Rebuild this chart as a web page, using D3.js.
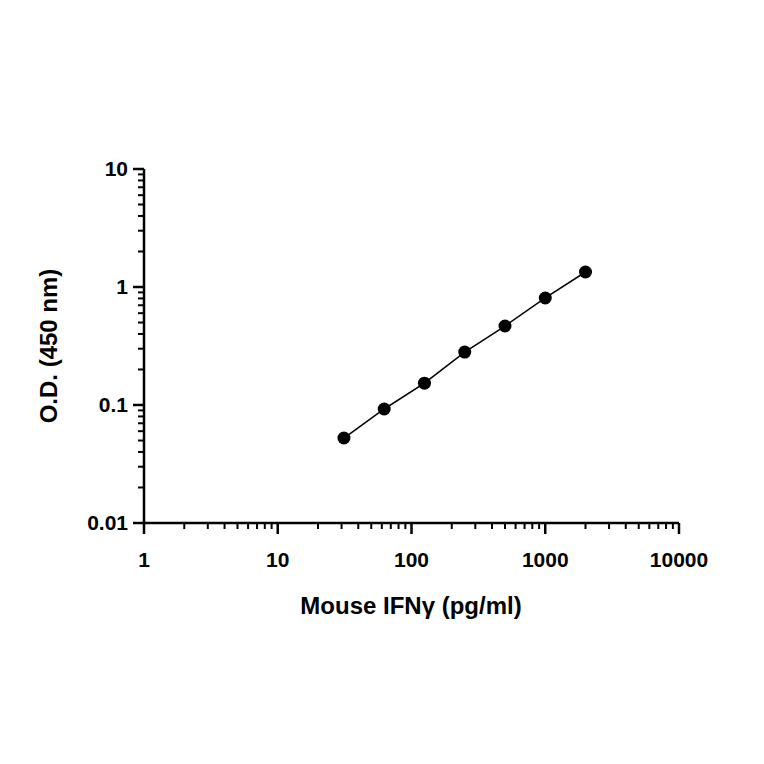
<!DOCTYPE html>
<html><head><meta charset="utf-8">
<script src="https://cdn.jsdelivr.net/npm/d3@7"></script>
<style>body{margin:0;background:#fff}</style></head>
<body><svg id="c" width="764" height="764"></svg>
<script>
const concentrations=[31.25,62.5,125,250,500,1000,2000];
const od=[0.0525,0.0925,0.153,0.281,0.467,0.807,1.34];
const xTicks=[1,10,100,1000,10000];
const yTicks=[0.01,0.1,1,10];
const svg=d3.select("#c");
const x=d3.scaleLog().domain([1,10000]).range([144,679]);
const y=d3.scaleLog().domain([0.01,10]).range([523,169]);
const font="Liberation Sans, Arial, sans-serif";
const g=svg.append("g").attr("stroke","#000");
// x axis
g.append("line").attr("x1",x(1)).attr("x2",x(10000)).attr("y1",523).attr("y2",523).attr("stroke-width",2.5);
const minorX=[];for(let d=1;d<10000;d*=10)for(let k=2;k<10;k++)minorX.push(d*k);
g.selectAll(".mx").data(minorX).enter().append("line").attr("x1",d=>x(d)).attr("x2",d=>x(d)).attr("y1",523).attr("y2",529).attr("stroke-width",2);
g.selectAll(".Mx").data(xTicks).enter().append("line").attr("x1",d=>x(d)).attr("x2",d=>x(d)).attr("y1",523).attr("y2",534).attr("stroke-width",2.5);
svg.selectAll(".xl").data(xTicks).enter().append("text").attr("x",d=>x(d)).attr("y",567).attr("text-anchor","middle")
 .attr("font-family",font).attr("font-weight","bold").attr("font-size",21).text(d=>d);
// y axis
g.append("line").attr("x1",144).attr("x2",144).attr("y1",y(0.01)).attr("y2",y(10)).attr("stroke-width",2.5);
const minorY=[];for(let d=0.01;d<9;d*=10)for(let k=2;k<10;k++)minorY.push(d*k);
g.selectAll(".my").data(minorY).enter().append("line").attr("x1",138).attr("x2",144).attr("y1",d=>y(d)).attr("y2",d=>y(d)).attr("stroke-width",2);
g.selectAll(".My").data(yTicks).enter().append("line").attr("x1",133).attr("x2",144).attr("y1",d=>y(d)).attr("y2",d=>y(d)).attr("stroke-width",2.5);
svg.selectAll(".yl").data(yTicks).enter().append("text").attr("x",128).attr("y",d=>y(d)+7).attr("text-anchor","end")
 .attr("font-family",font).attr("font-weight","bold").attr("font-size",21).text(d=>d);
// line + points
svg.append("path").datum(concentrations.map((c,i)=>[c,od[i]])).attr("fill","none").attr("stroke","#000").attr("stroke-width",1.5)
 .attr("d",d3.line().x(d=>x(d[0])).y(d=>y(d[1])));
svg.selectAll("circle").data(concentrations).enter().append("circle").attr("cx",d=>x(d)).attr("cy",(d,i)=>y(od[i])).attr("r",6.5).attr("fill","#000");
// titles
svg.append("text").attr("x",411).attr("y",614).attr("text-anchor","middle").attr("font-family",font).attr("font-weight","bold").attr("font-size",24).text("Mouse IFNγ (pg/ml)");
svg.append("text").attr("transform","translate(57,346) rotate(-90)").attr("text-anchor","middle").attr("font-family",font).attr("font-weight","bold").attr("font-size",24).text("O.D. (450 nm)");
</script></body></html>
